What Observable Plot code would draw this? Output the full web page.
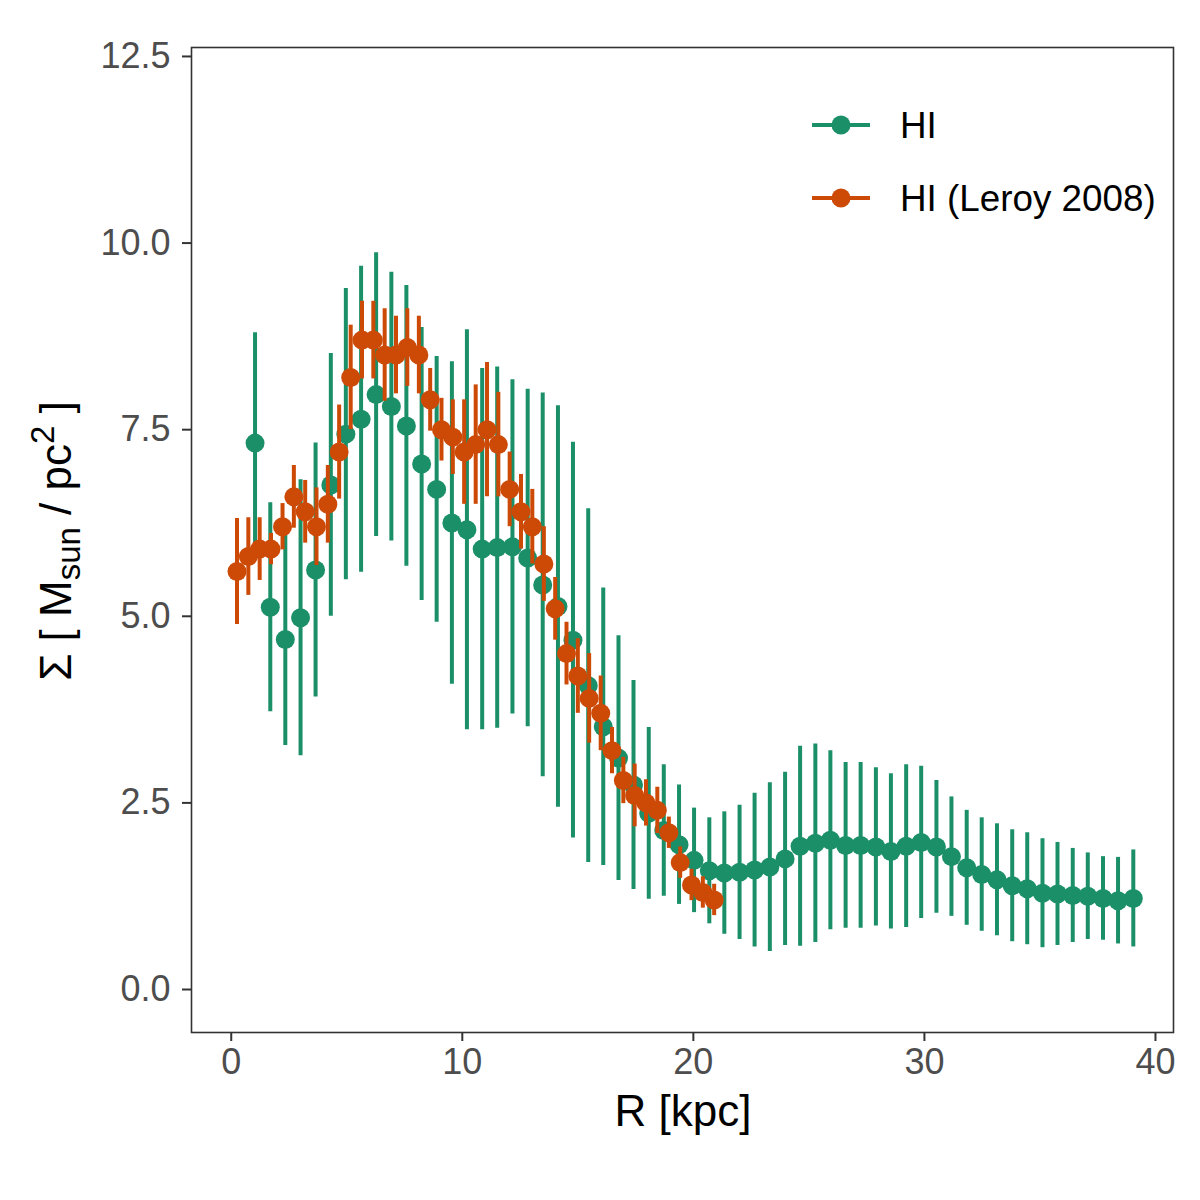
<!DOCTYPE html>
<html>
<head>
<meta charset="utf-8">
<script src="https://cdn.jsdelivr.net/npm/d3@7"></script>
<script src="https://cdn.jsdelivr.net/npm/@observablehq/plot@0.6"></script>
<style>
  html, body { margin: 0; padding: 0; background: #fff; }
  #chart { position: relative; width: 1200px; height: 1200px; }
</style>
</head>
<body>
<div id="chart"></div>
<script>
// ---- Data ----
const seriesNames = ["HI", "HI (Leroy 2008)"];
const seriesColors = ["#1B9068", "#CC4A06"];

// HI profile (green)
const hiR = [1.03,1.69,2.34,3.00,3.65,4.31,4.96,5.62,6.27,6.93,7.58,8.24,8.89,9.55,10.20,10.86,11.51,12.17,12.83,13.48,14.14,14.79,15.45,16.10,16.76,17.41,18.07,18.72,19.38,20.03,20.69,21.34,22.00,22.65,23.31,23.97,24.62,25.28,25.93,26.59,27.24,27.90,28.55,29.21,29.86,30.52,31.17,31.83,32.48,33.14,33.80,34.45,35.11,35.76,36.42,37.07,37.73,38.38,39.04];
const hiSigma = [7.32,5.12,4.69,4.98,5.62,6.76,7.44,7.64,7.97,7.81,7.55,7.04,6.70,6.25,6.16,5.90,5.92,5.93,5.78,5.42,5.13,4.68,4.07,3.52,3.10,2.74,2.36,2.13,1.94,1.73,1.59,1.56,1.57,1.60,1.64,1.75,1.92,1.96,2.00,1.93,1.93,1.91,1.85,1.92,1.97,1.91,1.78,1.63,1.54,1.47,1.39,1.35,1.29,1.28,1.26,1.25,1.22,1.19,1.22];
const hiErr = [1.48,1.40,1.42,1.85,1.70,1.76,1.95,2.05,1.90,1.80,1.88,1.83,1.78,2.16,2.68,2.42,2.42,2.24,2.26,2.57,2.69,2.65,2.37,1.86,1.64,1.40,1.15,0.88,0.80,0.70,0.71,0.82,0.90,1.03,1.13,1.16,1.34,1.33,1.20,1.11,1.11,1.06,1.04,1.09,1.02,0.89,0.80,0.77,0.76,0.75,0.75,0.75,0.73,0.69,0.63,0.58,0.56,0.58,0.65];

// HI profile from Leroy 2008 (orange)
const leroyR = [0.25,0.74,1.23,1.72,2.22,2.71,3.20,3.69,4.18,4.67,5.17,5.66,6.15,6.64,7.13,7.62,8.12,8.61,9.10,9.59,10.08,10.58,11.07,11.56,12.05,12.54,13.03,13.53,14.02,14.51,15.00,15.49,15.99,16.48,16.97,17.46,17.95,18.44,18.94,19.43,19.92,20.41,20.90];
const leroySigma = [5.6,5.8,5.9,5.9,6.2,6.6,6.4,6.2,6.5,7.2,8.2,8.7,8.7,8.5,8.5,8.6,8.5,7.9,7.5,7.4,7.2,7.3,7.5,7.3,6.7,6.4,6.2,5.7,5.1,4.5,4.2,3.9,3.7,3.2,2.8,2.6,2.5,2.4,2.1,1.7,1.4,1.3,1.2];
const leroyErr = [0.71,0.52,0.42,0.21,0.31,0.42,0.42,0.52,0.52,0.63,0.70,0.52,0.52,0.62,0.52,0.52,0.52,0.42,0.42,0.50,0.70,0.80,0.90,0.70,0.50,0.50,0.50,0.50,0.42,0.42,0.50,0.60,0.50,0.31,0.31,0.42,0.31,0.31,0.21,0.21,0.21,0.21,0.21];

// Axis ticks
const xTicks = [0, 10, 20, 30, 40];
const yTicks = [0, 2.5, 5, 7.5, 10, 12.5];
const yTickLabels = ["0.0", "2.5", "5.0", "7.5", "10.0", "12.5"];
const xDomain = [-1.72, 40.78];
const yDomain = [-0.576, 12.62];

// ---- Build tables ----
const hi = hiR.map((r, i) => ({R: r, S: hiSigma[i], lo: hiSigma[i] - hiErr[i], hi: hiSigma[i] + hiErr[i]}));
const leroy = leroyR.map((r, i) => ({R: r, S: leroySigma[i], lo: leroySigma[i] - leroyErr[i], hi: leroySigma[i] + leroyErr[i]}));

const FONT = "'Liberation Sans', Arial, Helvetica, sans-serif";

const svg = Plot.plot({
  width: 1200,
  height: 1200,
  marginLeft: 191,
  marginRight: 27,
  marginTop: 47,
  marginBottom: 168,
  style: {fontFamily: FONT, background: "#fff", overflow: "visible"},
  x: {domain: xDomain},
  y: {domain: yDomain},
  marks: [
    Plot.axisX({ticks: xTicks, tickSize: 9, tickPadding: 7, fontSize: 36, stroke: "#333333", strokeWidth: 2, fill: "#4D4D4D", label: null}),
    Plot.axisY({ticks: yTicks, tickFormat: d => yTickLabels[yTicks.indexOf(d)], tickSize: 9, tickPadding: 12, fontSize: 36, stroke: "#333333", strokeWidth: 2, fill: "#4D4D4D", label: null}),
    Plot.ruleX(hi, {x: "R", y1: "lo", y2: "hi", stroke: seriesColors[0], strokeWidth: 4}),
    Plot.dot(hi, {x: "R", y: "S", r: 9.5, fill: seriesColors[0], stroke: "none"}),
    Plot.ruleX(leroy, {x: "R", y1: "lo", y2: "hi", stroke: seriesColors[1], strokeWidth: 4}),
    Plot.dot(leroy, {x: "R", y: "S", r: 9.5, fill: seriesColors[1], stroke: "none"}),
    Plot.frame({stroke: "#333333", strokeWidth: 1.6})
  ]
});

document.getElementById("chart").appendChild(svg);

// ---- Axis titles and legend (real text) ----
const s = d3.select(svg);
s.append("text")
  .attr("x", 683).attr("y", 1126)
  .attr("text-anchor", "middle")
  .attr("font-family", FONT).attr("font-size", 44).attr("fill", "#000")
  .text("R [kpc]");

const yt = s.append("text")
  .attr("transform", "translate(71,541) rotate(-90)")
  .attr("text-anchor", "middle")
  .attr("font-family", FONT).attr("font-size", 44).attr("fill", "#000");
yt.append("tspan").text("Σ [ M");
yt.append("tspan").attr("font-size", 33).attr("baseline-shift", "-9").text("sun");
yt.append("tspan").text(" / pc");
yt.append("tspan").attr("font-size", 33).attr("baseline-shift", "17").text("2");
yt.append("tspan").text(" ]");

const legendRows = [125, 198];
seriesNames.forEach((name, i) => {
  const g = s.append("g");
  const y = legendRows[i];
  g.append("line").attr("x1", 812).attr("x2", 870).attr("y1", y).attr("y2", y)
    .attr("stroke", seriesColors[i]).attr("stroke-width", 4);
  g.append("circle").attr("cx", 841).attr("cy", y).attr("r", 9.5).attr("fill", seriesColors[i]);
  g.append("text").attr("x", 900).attr("y", y + 13)
    .attr("text-anchor", "start")
    .attr("font-family", FONT).attr("font-size", 36.8).attr("fill", "#000")
    .text(name);
});
</script>
</body>
</html>
